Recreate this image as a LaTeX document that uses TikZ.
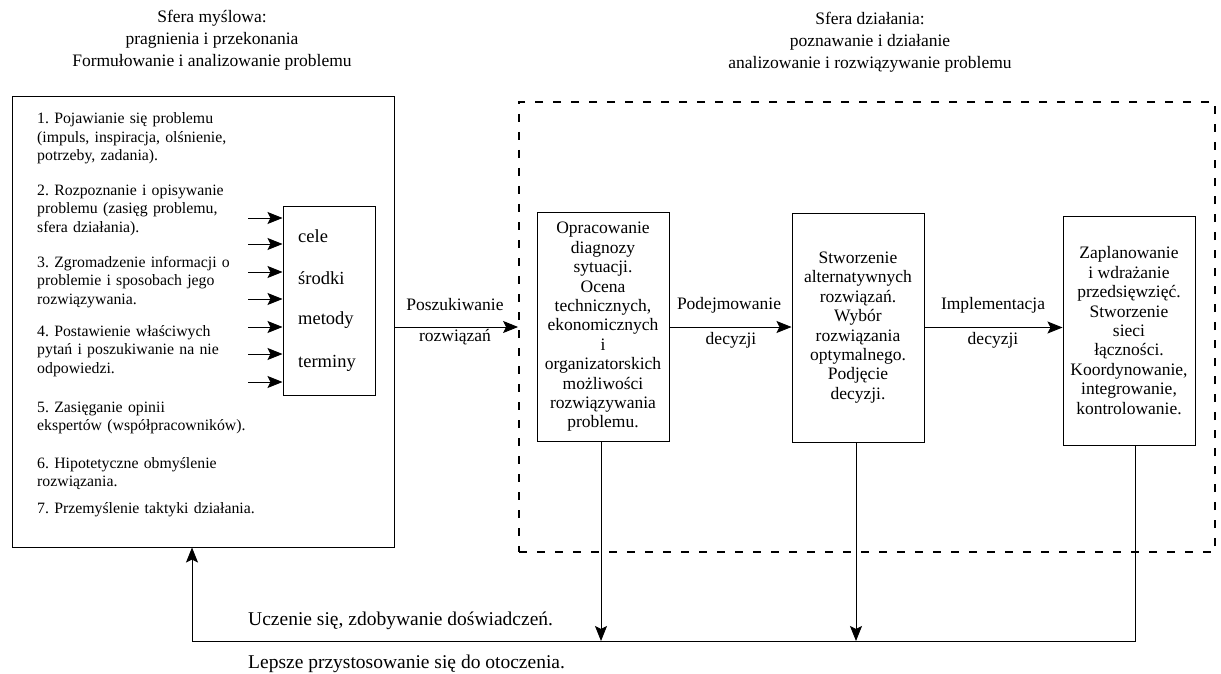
\documentclass[tikz,border=0pt]{standalone}
\usepackage{fontspec}
\setmainfont{Liberation Serif}
\usetikzlibrary{arrows.meta}

\tikzset{
  frame/.style={draw, line width=1pt, inner sep=0pt},
  stage/.style={draw, line width=1pt, inner sep=0pt, align=center,
    minimum width=132pt, minimum height=229pt,
    font=\fontsize{17.5}{19.4}\selectfont},
  zone/.style={draw, line width=1.8pt, dash pattern=on 8pt off 10pt,
    inner sep=0pt, minimum width=696pt, minimum height=450pt},
  heading/.style={align=center, inner sep=0pt, font=\fontsize{17.5}{22}\selectfont},
  item/.style={anchor=base west, align=left, inner sep=0pt, text width=260pt,
    font=\fontsize{15.8}{18.5}\selectfont},
  word/.style={anchor=west, inner sep=0pt, font=\fontsize{18.5}{20}\selectfont},
  lbl/.style={inner sep=0pt, font=\fontsize{17.5}{20}\selectfont},
  note/.style={anchor=base west, inner sep=0pt, font=\fontsize{19.5}{22}\selectfont},
  arr/.style={-{Stealth[length=15pt,width=12pt,inset=3pt]}, line width=0.9pt}
}

\begin{document}
\frenchspacing
\begin{tikzpicture}[x=1pt, y=-1pt]
  \useasboundingbox (0,0) rectangle (1221,674);

  % headings of the two spheres
  \node[heading] (h1) at (212,40) {Sfera myślowa:\\pragnienia i przekonania\\Formułowanie i analizowanie problemu};
  \node[heading] (h2) at (870,42) {Sfera działania:\\poznawanie i działanie\\analizowanie i rozwiązywanie problemu};

  % thinking sphere
  \node[frame, minimum width=382pt, minimum height=450pt] (lb) at (203,322) {};
  \node[item] (i1) at (37,124) {1. Pojawianie się problemu\\(impuls, inspiracja, olśnienie,\\potrzeby, zadania).};
  \node[item] (i2) at (37,195) {2. Rozpoznanie i opisywanie\\problemu (zasięg problemu,\\sfera działania).};
  \node[item] (i3) at (37,267) {3. Zgromadzenie informacji o\\problemie i sposobach jego\\rozwiązywania.};
  \node[item] (i4) at (37,336) {4. Postawienie właściwych\\pytań i poszukiwanie na nie\\odpowiedzi.};
  \node[item] (i5) at (37,412) {5. Zasięganie opinii\\ekspertów (współpracowników).};
  \node[item] (i6) at (37,468) {6. Hipotetyczne obmyślenie\\rozwiązania.};
  \node[item] (i7) at (37,513) {7. Przemyślenie taktyki działania.};

  % goals / means box with its inputs
  \node[frame, minimum width=92pt, minimum height=189pt] (cb) at (329,300.5) {};
  \node[word] (w1) at (298,236) {cele};
  \node[word] (w2) at (298,278) {środki};
  \node[word] (w3) at (298,320) {metody};
  \node[word] (w4) at (298,363) {terminy};
  \foreach \k/\yy in {1/218,2/244,3/272,4/299,5/327,6/354,7/382}{
    \coordinate (in\k) at (248,\yy);
    \draw[arr] (in\k) -- (in\k -| cb.west);
  }

  % action sphere
  \node[zone] (db) at (867,327) {};
  \node[stage] (b1) at (603,327) {Opracowanie\\diagnozy\\sytuacji.\\Ocena\\technicznych,\\ekonomicznych\\i\\organizatorskich\\możliwości\\rozwiązywania\\problemu.};
  \node[stage] (b2) at (858,327.5) {Stworzenie\\alternatywnych\\rozwiązań.\\Wybór\\rozwiązania\\optymalnego.\\Podjęcie\\decyzji.};
  \node[stage] (b3) at (1129,330.5) {Zaplanowanie\\i wdrażanie\\przedsięwzięć.\\Stworzenie\\sieci\\łączności.\\Koordynowanie,\\integrowanie,\\kontrolowanie.};

  % forward flow
  \draw[arr] (lb.east |- b1) -- (db.west |- b1);
  \draw[arr] (b1.east) -- (b1.east -| b2.west);
  \draw[arr] (b2.east) -- (b2.east -| b3.west);

  \node[lbl] (l1a) at (455,305) {Poszukiwanie};
  \node[lbl] (l1b) at (455,337) {rozwiązań};
  \node[lbl] (l2a) at (729,305) {Podejmowanie};
  \node[lbl] (l2b) at (731,340) {decyzji};
  \node[lbl] (l3a) at (993,305) {Implementacja};
  \node[lbl] (l3b) at (993,340) {decyzji};

  % feedback loop
  \coordinate (fb) at (192,641);
  \draw[arr] ([xshift=-2pt]b1.south) -- ([xshift=-2pt]b1.south |- fb);
  \draw[arr] ([xshift=-2pt]b2.south) -- ([xshift=-2pt]b2.south |- fb);
  \draw[arr] ([xshift=6pt]b3.south) |- (fb) -- (fb |- lb.south);

  \node[note] (n1) at (248,625) {Uczenie się, zdobywanie doświadczeń.};
  \node[note] (n2) at (248,668) {Lepsze przystosowanie się do otoczenia.};
\end{tikzpicture}
\end{document}
